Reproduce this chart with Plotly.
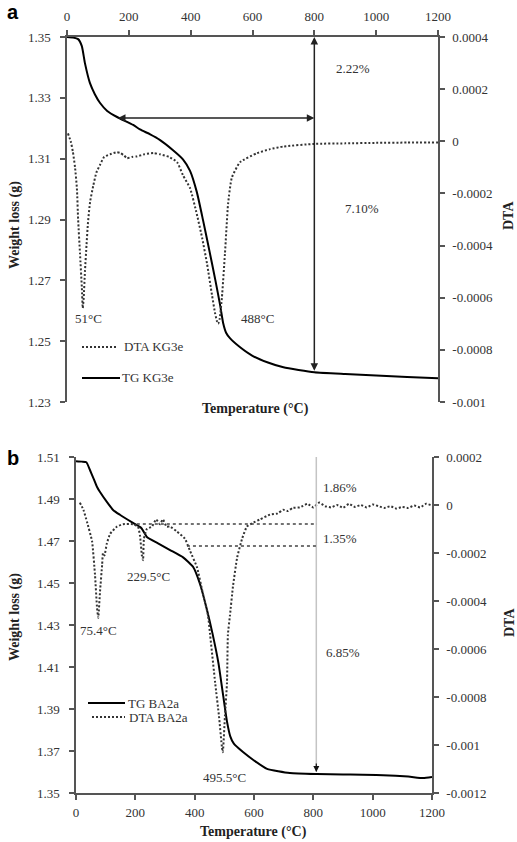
import plotly.graph_objects as go

# ---------------- data: panel a (KG3e) ----------------
tg_a_temp = [0, 20, 36, 48, 58, 74, 90, 107, 130, 162, 214, 236, 269, 300, 343, 375, 398, 420,
             440, 460, 480, 495, 505, 515, 527, 560, 600, 650, 700, 800, 900, 1000, 1100, 1200]
tg_a_wt = [1.3500, 1.3498, 1.3493, 1.3470, 1.3414, 1.3349, 1.3312, 1.3283, 1.3257, 1.3237, 1.3211,
           1.3196, 1.3180, 1.3162, 1.3128, 1.3098, 1.3060, 1.2990, 1.2898, 1.2800, 1.2700, 1.2620,
           1.2560, 1.2527, 1.2510, 1.2480, 1.2452, 1.2430, 1.2414, 1.2398, 1.2392, 1.2387,
           1.2382, 1.2378]

dta_a_temp = [3, 12, 19, 26, 32, 36, 42, 48, 51, 54, 58, 63, 68, 75, 85, 95, 107, 120, 139, 160,
              172, 185, 194, 210, 226, 250, 280, 301, 330, 356, 375, 398, 420, 437, 453, 469, 479,
              485, 489, 494, 501, 511, 521, 533, 560, 614, 657, 700, 800, 900, 1000, 1100, 1200]
dta_a_val = [0.00003, 0.0, -0.00004, -0.00010, -0.00018, -0.00030, -0.00043, -0.00056, -0.00064,
             -0.00060, -0.00050, -0.00040, -0.00031, -0.00023, -0.00017, -0.00012, -0.00009,
             -0.00006, -0.00005, -0.000042, -0.000045, -0.000055, -0.000065, -0.00006, -0.000058,
             -0.00005, -0.000045, -0.00005, -0.00006, -0.00008, -0.00013, -0.00018, -0.00028,
             -0.00037, -0.00047, -0.00059, -0.00066, -0.00069, -0.00070, -0.00068, -0.00060,
             -0.00043, -0.00024, -0.00014, -0.00008, -0.000046, -0.00003, -0.00002, -0.00001,
             -0.000008, -0.000006, -0.000005, -0.000005]

# ---------------- data: panel b (BA2a) ----------------
tg_b_temp = [0, 20, 35, 47, 60, 71, 81, 104, 125, 148, 192, 220, 239, 275, 317, 361, 395, 418,
             441, 460, 480, 496, 509, 520, 532, 563, 600, 644, 721, 812, 900, 1035, 1120, 1170, 1200]
tg_b_wt = [1.5080, 1.5078, 1.5075, 1.5038, 1.4995, 1.4957, 1.4933, 1.4886, 1.4848, 1.4825, 1.4786,
           1.4762, 1.4719, 1.4690, 1.4657, 1.4622, 1.4576, 1.4495, 1.4375, 1.4260, 1.4120, 1.3965,
           1.3840, 1.3770, 1.3735, 1.3695, 1.3655, 1.3615, 1.3595, 1.3590, 1.3588, 1.3585, 1.3578,
           1.3571, 1.3576]

dta_b_temp = [13, 25, 37, 54, 64, 71, 75, 81, 88, 91, 96, 104, 115, 138, 158, 192, 209, 216, 222,
              226, 229, 239, 256, 270, 283, 293, 305, 317, 340, 367, 384, 408, 428, 445, 452, 469,
              482, 492, 495, 502, 509, 512, 519, 529, 543, 560, 576, 595, 620, 654, 680, 698, 715,
              730, 755, 780, 800, 820, 840, 860, 880, 900, 920, 940, 960, 980, 1000, 1020, 1040,
              1060, 1080, 1100, 1120, 1140, 1160, 1180, 1195]
dta_b_val = [0.00001, -0.00002, -0.00007, -0.00015, -0.00029, -0.00043, -0.00047, -0.00036,
             -0.00025, -0.00020, -0.00021, -0.00016, -0.00012, -0.00009, -0.00008, -0.00008,
             -0.00009, -0.00013, -0.00021, -0.00023, -0.00014, -0.00010, -0.00009, -0.00006,
             -0.00008, -0.00006, -0.00009, -0.00009, -0.00011, -0.00014, -0.00019, -0.00026,
             -0.00037, -0.00046, -0.00054, -0.00074, -0.00088, -0.00101, -0.00103, -0.00088,
             -0.00074, -0.00054, -0.00046, -0.00034, -0.00022, -0.00014, -0.00009, -0.000075,
             -0.00006, -0.00004, -0.000035, -0.00002, -0.000025, -0.000012, -0.00001, 0.000005,
             -0.00001, 0.00001, -0.000005, -0.00001, 0.0, -0.000012, 0.000005, -0.000008, 0.0,
             -0.00001, 0.000002, -0.000005, -0.000012, -0.000005, -0.000015, -0.000008, -0.000012,
             -0.000002, -0.00001, 0.000005, 0.0]

# ---------------- tick labels ----------------
temp_ticks = [0, 200, 400, 600, 800, 1000, 1200]
wt_a_ticks = [1.23, 1.25, 1.27, 1.29, 1.31, 1.33, 1.35]
dta_a_ticks = [-0.001, -0.0008, -0.0006, -0.0004, -0.0002, 0, 0.0002, 0.0004]
dta_a_labels = ["-0.001", "-0.0008", "-0.0006", "-0.0004", "-0.0002", "0", "0.0002", "0.0004"]
wt_b_ticks = [1.35, 1.37, 1.39, 1.41, 1.43, 1.45, 1.47, 1.49, 1.51]
dta_b_ticks = [-0.0012, -0.001, -0.0008, -0.0006, -0.0004, -0.0002, 0, 0.0002]
dta_b_labels = ["-0.0012", "-0.001", "-0.0008", "-0.0006", "-0.0004", "-0.0002", "0", "0.0002"]

# ---------------- annotation values ----------------
a_arrow_w = 1.3234
a_step_t = 800
a_bottom_w = 1.2398
b_step_t = 810
b_top_w = 1.5105
b_bottom_w = 1.3600
b_lvl1 = 1.4781
b_lvl2 = 1.4676

W, H = 517, 842
def px(x):
    return x / W
def py(y):
    return 1 - y / H

SERIF = "Liberation Serif, Times New Roman, serif"
TXT = "#333333"
AX = "#555555"
DOT = "2px,2px"

fig = go.Figure()

fig.add_trace(go.Scatter(x=tg_a_temp, y=tg_a_wt, mode="lines", name="TG KG3e",
                         line=dict(color="black", width=2, shape="spline", smoothing=0.5),
                         xaxis="x", yaxis="y"))
fig.add_trace(go.Scatter(x=dta_a_temp, y=dta_a_val, mode="lines", name="DTA KG3e",
                         line=dict(color="#333333", width=2, dash=DOT, shape="spline", smoothing=0.5),
                         xaxis="x", yaxis="y2"))
fig.add_trace(go.Scatter(x=tg_b_temp, y=tg_b_wt, mode="lines", name="TG BA2a",
                         line=dict(color="black", width=2, shape="spline", smoothing=0.5),
                         xaxis="x2", yaxis="y3"))
fig.add_trace(go.Scatter(x=dta_b_temp, y=dta_b_val, mode="lines", name="DTA BA2a",
                         line=dict(color="#333333", width=2, dash=DOT, shape="spline", smoothing=0.4),
                         xaxis="x2", yaxis="y4"))

def axis_style(standoff):
    return dict(showline=True, linecolor=AX, linewidth=1.5, ticks="outside", ticklen=5,
                tickcolor=AX, tickwidth=1.5, showgrid=False, zeroline=False,
                ticklabelstandoff=standoff,
                tickfont=dict(family=SERIF, size=13, color=TXT), automargin=False)

fig.update_layout(
    width=W, height=H, margin=dict(l=0, r=0, t=0, b=0),
    paper_bgcolor="white", plot_bgcolor="white", showlegend=False,
    xaxis=dict(domain=[px(67), px(438)], range=[0, 1200], side="top", anchor="y",
               tickvals=temp_ticks, **axis_style(4)),
    yaxis=dict(domain=[py(402), py(37)], range=[1.23, 1.35], anchor="x",
               tickvals=wt_a_ticks, ticktext=[f"{v:.2f}" for v in wt_a_ticks], **axis_style(7)),
    yaxis2=dict(overlaying="y", side="right", anchor="x", range=[-0.001, 0.0004],
                tickvals=dta_a_ticks, ticktext=dta_a_labels, **axis_style(5)),
    xaxis2=dict(domain=[px(76), px(432)], range=[0, 1200], side="bottom", anchor="y3",
                tickvals=temp_ticks, **axis_style(2)),
    yaxis3=dict(domain=[py(793), py(457)], range=[1.35, 1.51], anchor="x2",
                tickvals=wt_b_ticks, ticktext=[f"{v:.2f}" for v in wt_b_ticks], **axis_style(7)),
    yaxis4=dict(overlaying="y3", side="right", anchor="x2", range=[-0.0012, 0.0002],
                tickvals=dta_b_ticks, ticktext=dta_b_labels, **axis_style(5)),
)

ann = []
shapes = []
font_t = dict(family=SERIF, size=13, color=TXT)

# panel a arrows
ann.append(dict(x=a_step_t, y=a_arrow_w, ax=160, ay=a_arrow_w, xref="x", yref="y", axref="x", ayref="y",
                text="", showarrow=True, arrowhead=2, startarrowhead=2, arrowside="end+start",
                arrowsize=1, arrowwidth=1.5, arrowcolor="#222222"))
ann.append(dict(x=a_step_t, y=1.35, ax=a_step_t, ay=a_bottom_w, xref="x", yref="y", axref="x", ayref="y",
                text="", showarrow=True, arrowhead=2, startarrowhead=2, arrowside="end+start",
                arrowsize=1, arrowwidth=1.5, arrowcolor="#222222"))
for t, w, s in [(925, 1.3398, "2.22%"), (954, 1.2937, "7.10%"), (70, 1.2574, "51°C"), (615, 1.2574, "488°C")]:
    ann.append(dict(x=t, y=w, xref="x", yref="y", text=s, showarrow=False, font=font_t))

# panel b guide lines
shapes.append(dict(type="line", xref="x2", yref="y3", x0=b_step_t, x1=b_step_t, y0=b_bottom_w, y1=b_top_w,
                   line=dict(color="#c4c4c4", width=1.5)))
shapes.append(dict(type="line", xref="x2", yref="y3", x0=205, x1=812, y0=b_lvl1, y1=b_lvl1,
                   line=dict(color="#444444", width=1.5, dash="dot")))
shapes.append(dict(type="line", xref="x2", yref="y3", x0=374, x1=812, y0=b_lvl2, y1=b_lvl2,
                   line=dict(color="#444444", width=1.5, dash="dot")))
ann.append(dict(x=b_step_t, y=b_top_w, ax=0, ay=10, xref="x2", yref="y3", text="", showarrow=True,
                arrowhead=2, arrowsize=1, arrowwidth=1.2, arrowcolor="#111111"))
ann.append(dict(x=b_step_t, y=b_bottom_w, ax=0, ay=-10, xref="x2", yref="y3", text="", showarrow=True,
                arrowhead=2, arrowsize=1, arrowwidth=1.2, arrowcolor="#111111"))
for t, w, s in [(890, 1.4957, "1.86%"), (890, 1.4714, "1.35%"), (900, 1.4167, "6.85%"),
                (76, 1.4276, "75.4°C"), (246, 1.4529, "229.5°C"), (502, 1.3576, "495.5°C")]:
    ann.append(dict(x=t, y=w, xref="x2", yref="y3", text=s, showarrow=False, font=font_t))

# legends (samples + labels)
def legend_item(x0, x1, y, label, tx, dashed):
    shapes.append(dict(type="line", xref="paper", yref="paper", x0=px(x0), x1=px(x1), y0=py(y), y1=py(y),
                       line=dict(color="black" if not dashed else "#333333", width=2,
                                 dash=DOT if dashed else "solid")))
    ann.append(dict(x=px(tx), y=py(y), xref="paper", yref="paper", text=label, showarrow=False,
                    xanchor="left", yanchor="middle", font=dict(family=SERIF, size=13, color=TXT)))

legend_item(82, 118, 347, "DTA KG3e", 122, True)
legend_item(82, 120, 378, "TG KG3e", 120, False)
legend_item(88, 125, 703, "TG BA2a", 126, False)
legend_item(92, 125, 717, "DTA BA2a", 127, True)

# axis titles
bold = dict(family=SERIF, size=14, color="#222222")
def paper_text(x, y, s, font, angle=0):
    ann.append(dict(x=px(x), y=py(y), xref="paper", yref="paper", text=s, textangle=angle,
                    xanchor="center", yanchor="middle", showarrow=False, font=font))

paper_text(15, 225, "<b>Weight loss (g)</b>", bold, -90)
paper_text(509, 216, "<b>DTA</b>", bold, -90)
paper_text(255, 409, "<b>Temperature (°C)</b>", bold)
paper_text(15, 617, "<b>Weight loss (g)</b>", bold, -90)
paper_text(509, 623, "<b>DTA</b>", bold, -90)
paper_text(253, 832, "<b>Temperature (°C)</b>", bold)

# panel letters
letter = dict(family="Liberation Sans, Arial, sans-serif", size=20, color="black")
paper_text(13, 12, "<b>a</b>", letter)
paper_text(13, 458, "<b>b</b>", letter)

fig.update_layout(annotations=ann, shapes=shapes)
fig.write_html("out.html", config={"displayModeBar": False},
               post_script="document.body.style.margin='0px';document.body.style.overflow='hidden';")
